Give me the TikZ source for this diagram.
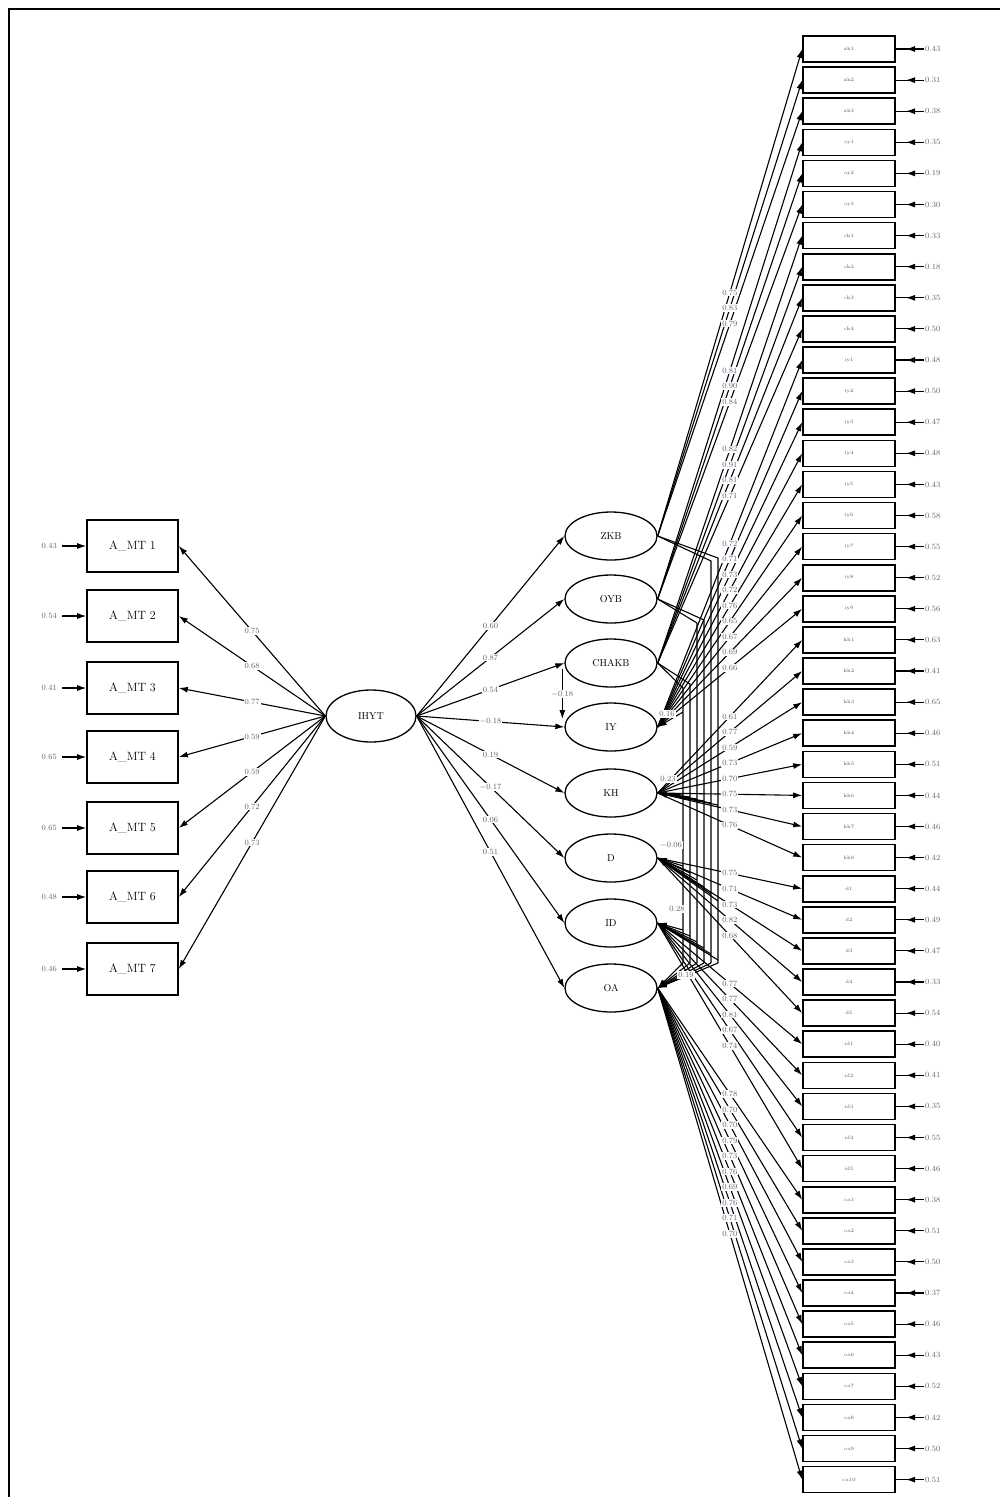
\documentclass[tikz,border=0pt]{standalone}
\usetikzlibrary{arrows.meta,shapes.geometric,calc}
\definecolor{lbl}{RGB}{95,95,125}
\begin{document}
\begin{tikzpicture}[x=1pt,y=-1pt,
  arr/.style={-{Latex[length=9pt,width=6pt]}, line width=1.1pt},
  ln/.style={line width=1.1pt},
  obs/.style={draw, line width=1.6pt, minimum width=91pt, minimum height=52pt, inner sep=0pt, font=\fontsize{12}{12}\selectfont},
  robs/.style={draw, line width=1.6pt, minimum width=92pt, minimum height=26pt, inner sep=0pt, font=\fontsize{5}{5}\selectfont, text=black!65},
  lat/.style={draw, ellipse, line width=1.3pt, minimum width=92pt, minimum height=48pt, inner sep=0pt, font=\fontsize{10}{10}\selectfont},
  coef/.style={font=\fontsize{8}{8}\selectfont, text=lbl, fill=white, inner sep=1pt},
  errl/.style={font=\fontsize{8}{8}\selectfont, text=lbl, inner sep=1pt},
]
\useasboundingbox (0,0) rectangle (1000,1497);
\draw[line width=2pt] (9,1497) -- (9,9) -- (1000,9);

% left observed variables
\foreach \i/\y/\e in {1/546/0.43, 2/616/0.54, 3/688/0.41, 4/757/0.65, 5/828/0.65, 6/897/0.48, 7/969/0.46}{
  \node[obs] (a\i) at (132.5,\y) {A\_MT \i};
  \node[errl, anchor=east] (ea\i) at (58,\y) {\e};
  \draw[arr] ([xshift=4pt]ea\i.east) -- (a\i.west);
}
\node[lat, minimum width=90pt, minimum height=52pt] (ihyt) at (371,716) {IHYT};
\foreach \i/\l in {1/0.75, 2/0.68, 3/0.77, 4/0.59, 5/0.59, 6/0.72, 7/0.73}{
  \draw[arr] (ihyt.west) -- node[coef]{\l} (a\i.east);
}

% latent variables
\foreach \n/\t/\y in {zkb/ZKB/536, oyb/OYB/599, chakb/CHAKB/663, iy/IY/727, kh/KH/793, d/D/858, id/ID/923, oa/OA/988}{
  \node[lat] (\n) at (611,\y) {\t};
}
\foreach \n/\l in {zkb/0.60, oyb/0.87, chakb/0.54, iy/$-$0.18, kh/0.19, d/$-$0.17, id/0.06, oa/0.51}{
  \draw[arr] (ihyt.east) -- node[coef]{\l} (\n.west);
}
\draw[arr] ([xshift=-2pt,yshift=-6pt]chakb.west) -- node[coef]{$-$0.18} ([xshift=-2pt,yshift=8pt]iy.west);

% routed paths among latent variables
\foreach \s/\xa/\ya in {zkb/718/558, zkb/711/561, oyb/704/620, oyb/697/623, chakb/690/684, chakb/683/688}{
  \draw[ln] (\s.east) -- (\xa,\ya) -- (\xa,963);
}
\draw[arr] (683,712) -- (iy.east);
\foreach \xa/\k in {683/0, 690/1, 697/2, 704/3, 711/4, 718/5}{
  \draw[arr] (\xa,{795+\k*2}) -- (kh.east);
  \draw[arr] (\xa,{866+\k*7}) -- (d.east);
  \draw[arr] (\xa,{930+\k*6}) -- (id.east);
  \draw[arr] (\xa,963) -- (oa.east);
}

% right observed variables
\foreach \i/\s/\l/\e/\m in {
 1/zkb/0.75/0.43/zk1, 2/zkb/0.83/0.31/zk2, 3/zkb/0.79/0.38/zk3,
 4/oyb/0.81/0.35/oy1, 5/oyb/0.90/0.19/oy2, 6/oyb/0.84/0.30/oy3,
 7/chakb/0.82/0.33/ck1, 8/chakb/0.91/0.18/ck2, 9/chakb/0.81/0.35/ck3, 10/chakb/0.71/0.50/ck4,
 11/iy/0.72/0.48/iy1, 12/iy/0.71/0.50/iy2, 13/iy/0.73/0.47/iy3, 14/iy/0.72/0.48/iy4, 15/iy/0.76/0.43/iy5,
 16/iy/0.65/0.58/iy6, 17/iy/0.67/0.55/iy7, 18/iy/0.69/0.52/iy8, 19/iy/0.66/0.56/iy9,
 20/kh/0.61/0.63/kh1, 21/kh/0.77/0.41/kh2, 22/kh/0.59/0.65/kh3, 23/kh/0.73/0.46/kh4,
 24/kh/0.70/0.51/kh5, 25/kh/0.75/0.44/kh6, 26/kh/0.73/0.46/kh7, 27/kh/0.76/0.42/kh8,
 28/d/0.75/0.44/d1, 29/d/0.71/0.49/d2, 30/d/0.73/0.47/d3, 31/d/0.82/0.33/d4, 32/d/0.68/0.54/d5,
 33/id/0.77/0.40/id1, 34/id/0.77/0.41/id2, 35/id/0.81/0.35/id3, 36/id/0.67/0.55/id4, 37/id/0.74/0.46/id5,
 38/oa/0.78/0.38/oa1, 39/oa/0.70/0.51/oa2, 40/oa/0.70/0.50/oa3, 41/oa/0.79/0.37/oa4, 42/oa/0.73/0.46/oa5,
 43/oa/0.76/0.43/oa6, 44/oa/0.69/0.52/oa7, 45/oa/0.76/0.42/oa8, 46/oa/0.71/0.50/oa9, 47/oa/0.70/0.51/oa10}{
  \node[robs] (b\i) at (849,{49+(\i-1)*31.1}) {\m};
  \node[errl, anchor=west] (eb\i) at (924,{49+(\i-1)*31.1}) {\e};
  \draw[ln] (b\i.east) -- (eb\i.west);
  \draw[arr] (eb\i.west) -- ++(-18,0);
  \draw[arr] (\s.east) -- (b\i.west);
}
\foreach \i/\s/\l in {
 1/zkb/0.75, 2/zkb/0.83, 3/zkb/0.79, 4/oyb/0.81, 5/oyb/0.90, 6/oyb/0.84,
 7/chakb/0.82, 8/chakb/0.91, 9/chakb/0.81, 10/chakb/0.71,
 11/iy/0.72, 12/iy/0.71, 13/iy/0.73, 14/iy/0.72, 15/iy/0.76, 16/iy/0.65, 17/iy/0.67, 18/iy/0.69, 19/iy/0.66,
 20/kh/0.61, 21/kh/0.77, 22/kh/0.59, 23/kh/0.73, 24/kh/0.70, 25/kh/0.75, 26/kh/0.73, 27/kh/0.76,
 28/d/0.75, 29/d/0.71, 30/d/0.73, 31/d/0.82, 32/d/0.68,
 33/id/0.77, 34/id/0.77, 35/id/0.81, 36/id/0.67, 37/id/0.74,
 38/oa/0.78, 39/oa/0.70, 40/oa/0.70, 41/oa/0.79, 42/oa/0.73, 43/oa/0.76, 44/oa/0.69, 45/oa/0.76, 46/oa/0.71, 47/oa/0.70}{
  \node[coef] (c\i) at ($(\s.east)!0.5!(b\i.west)$) {\l};
}
% labels of the paths among latent variables, on top
\node[coef] (p1) at (667,714) {0.16};
\node[coef] (p2) at (668,779) {0.23};
\node[coef] (p3) at (671,845) {$-$0.06};
\node[coef] (p4) at (677,909) {0.28};
\node[coef] (p5) at (686,975) {0.19};
\end{tikzpicture}
\end{document}
